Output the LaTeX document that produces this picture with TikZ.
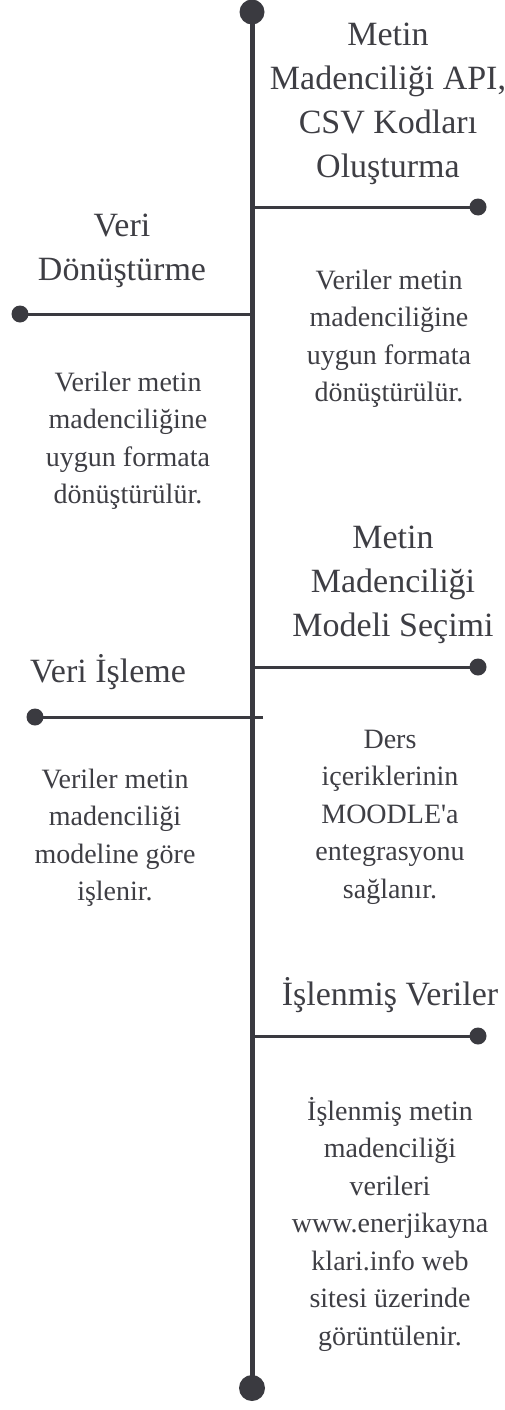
\documentclass[tikz,border=0pt]{standalone}
\usepackage{fontspec}
\setmainfont{Liberation Serif}
\usepackage{tikz}
\usetikzlibrary{positioning}
\definecolor{linegray}{RGB}{58,58,64}
\definecolor{textgray}{RGB}{62,62,68}
\tikzset{
  dot/.style={circle, fill=linegray, inner sep=0pt, minimum size=#1},
  title/.style={text=textgray, align=center, font=\fontsize{34}{44}\selectfont},
  body/.style={text=textgray, align=center, font=\fontsize{28}{37.5}\selectfont},
  branch/.style={draw=linegray, line width=3pt},
}
\begin{document}
\begin{tikzpicture}[x=1pt, y=-1pt]
				\useasboundingbox (0,0) rectangle (505,1410);
				\path 
				(252,207) coordinate (j1)
				(252,314) coordinate (j2)
				(252,667) coordinate (j3)
				(263,717) coordinate (j4)
				(252,1036) coordinate (j5)
				;
				
				% main line with end dots
				\node[dot=25pt] (top) at (252,12) {};
				\node[dot=26pt] (bottom) at (252,1388) {};
				\draw[draw=linegray, line width=5pt] (top.center) -- (bottom.center);
				
				% branch dots
				\node[dot=17pt] (d1) at (478,207) {};
				\node[dot=17pt] (d2) at (20,314) {};
				\node[dot=17pt] (d3) at (478,667) {};
				\node[dot=17pt] (d4) at (35,717) {};
				\node[dot=17pt] (d5) at (478,1036) {};
				
				\draw[branch] (j1) -- (d1.center);
				\draw[branch] (j2) -- (d2.center);
				\draw[branch] (j3) -- (d3.center);
				\draw[branch] (j4) -- (d4.center);
				\draw[branch] (j5) -- (d5.center);
				
				% titles
				\node[title] (t1) at (388,104) {Metin\\Madenciliği API,\\CSV Kodları\\Oluşturma};
				\node[title] (t2) at (122,251) {Veri\\Dönüştürme};
				\node[title] (t3) at (393,585) {Metin\\Madenciliği\\Modeli Seçimi};
				\node[title] (t4) at (108,672) {Veri İşleme};
				\node[title] (t5) at (390,995) {İşlenmiş Veriler};
				
				% descriptions
				\node[body] (b1) at (389,339) {Veriler metin\\madenciliğine\\uygun formata\\dönüştürülür.};
				\node[body] (b2) at (128,441) {Veriler metin\\madenciliğine\\uygun formata\\dönüştürülür.};
				\node[body] (b3) at (390,817) {Ders\\içeriklerinin\\MOODLE\textquotesingle a\\entegrasyonu\\sağlanır.};
				\node[body] (b4) at (115,838) {Veriler metin\\madenciliği\\modeline göre\\işlenir.};
				\node[body] (b5) at (390,1224) {İşlenmiş metin\\madenciliği\\verileri\\www.enerjikayna\\klari.info web\\sitesi üzerinde\\görüntülenir.};
			\end{tikzpicture}
\end{document}
